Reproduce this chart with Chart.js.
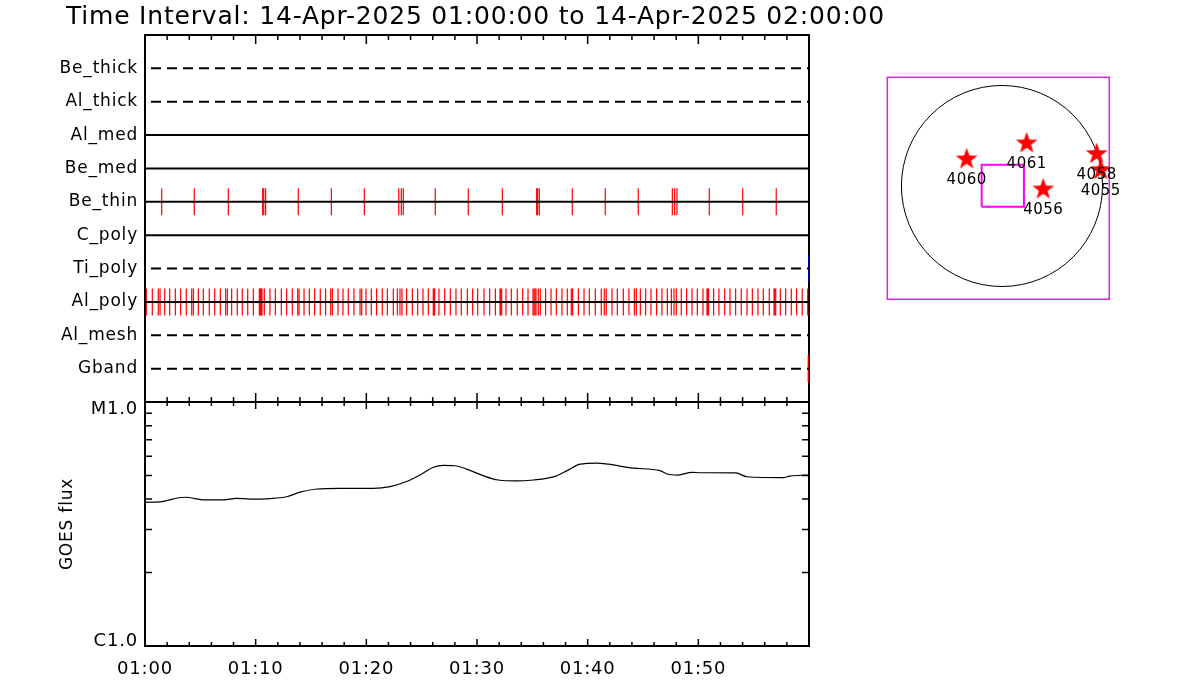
<!DOCTYPE html>
<html><head><meta charset="utf-8">
<script src="https://cdn.jsdelivr.net/npm/chart.js@4.4.1/dist/chart.umd.min.js"></script>
<style>
html,body{margin:0;padding:0;background:#fff;width:1200px;height:700px;overflow:hidden;}
.c{position:absolute;}
#cA{left:0;top:0;width:951px;height:410px;}
#cB{left:0;top:390px;width:951px;height:310px;}
#cC{left:880px;top:70px;width:240px;height:240px;}
</style></head><body>
<div class="c" id="cA"><canvas id="a"></canvas></div>
<div class="c" id="cB"><canvas id="b"></canvas></div>
<div class="c" id="cC"><canvas id="m"></canvas></div>
<script>
// ---------------- data ----------------
const titleText = 'Time Interval: 14-Apr-2025 01:00:00 to 14-Apr-2025 02:00:00';
const rowNames  = ['Be_thick','Al_thick','Al_med','Be_med','Be_thin','C_poly','Ti_poly','Al_poly','Al_mesh','Gband'];
const rowDashed = [true,true,false,false,false,false,true,false,true,true];

const beThinEvents = [1.51,4.45,7.53,10.63,10.73,10.90,13.85,16.84,19.82,22.93,23.16,23.34,26.23,29.21,
  32.29,35.39,35.48,35.63,38.61,41.59,44.57,47.65,47.86,48.07,50.99,54.01,57.04];
const alPolyEvents = [0.12,0.66,1.20,1.36,1.78,2.23,2.74,3.22,3.73,4.22,4.37,4.82,5.27,5.81,6.30,6.81,7.29,7.44,
  7.83,8.34,8.79,9.28,9.79,10.33,10.39,10.45,10.51,10.57,10.78,11.29,11.78,12.32,12.80,13.31,13.80,13.92,14.37,
  14.85,15.33,15.84,16.32,16.78,16.93,17.44,17.89,18.37,18.88,19.43,19.58,19.97,20.45,20.93,21.44,21.90,22.44,
  22.80,23.04,23.22,23.64,24.16,24.64,25.12,25.60,26.05,26.11,26.17,26.56,27.08,27.59,28.10,28.58,29.13,29.61,
  30.06,30.63,31.14,31.66,32.08,32.14,32.23,32.62,33.10,33.64,34.13,34.61,35.06,35.15,35.24,35.33,35.54,35.72,
  36.20,36.69,37.17,37.68,38.16,38.52,38.64,39.16,39.67,40.15,40.69,41.23,41.50,41.68,42.20,42.68,43.22,43.73,
  44.22,44.40,44.76,45.24,45.72,46.23,46.71,47.20,47.56,47.80,48.01,48.46,48.94,49.43,49.91,50.42,50.78,50.84,
  50.93,51.38,51.86,52.38,52.86,53.37,53.88,54.40,54.88,55.39,55.87,56.41,56.84,56.90,56.99,57.41,57.89,58.40,
  58.88,59.39,59.88];
const tiPolyEvents = [60.0];
const gbandEvents  = [59.93];

const timeTickMinutes = [0,10,20,30,40,50];
const timeTickLabels  = ['01:00','01:10','01:20','01:30','01:40','01:50'];

const goesMinutes = [0.0,1.36,3.61,5.42,7.08,8.28,9.49,11.29,12.80,14.01,15.51,17.62,19.43,20.63,22.14,23.64,
  24.85,26.05,26.96,28.00,29.06,30.56,31.92,33.57,35.09,36.89,38.10,39.31,40.81,41.86,44.09,46.53,47.16,48.16,
  49.43,50.15,53.40,54.39,57.73,58.28,59.92];
const goesFlux = [3.88e-6,3.90e-6,4.07e-6,3.97e-6,3.97e-6,4.03e-6,4.00e-6,4.02e-6,4.09e-6,4.27e-6,4.40e-6,4.43e-6,
  4.43e-6,4.43e-6,4.50e-6,4.72e-6,5.02e-6,5.40e-6,5.50e-6,5.48e-6,5.31e-6,4.99e-6,4.79e-6,4.75e-6,4.79e-6,4.93e-6,
  5.22e-6,5.56e-6,5.62e-6,5.56e-6,5.36e-6,5.23e-6,5.07e-6,5.02e-6,5.15e-6,5.13e-6,5.12e-6,4.94e-6,4.90e-6,4.97e-6,5.02e-6];
const goesMin = 1e-6, goesMax = 1e-5;
const goesTickLabels = ['C1.0', 'M1.0'];

const arNames = ['4060','4061','4056','4058','4055'];
const arX = [-337, 236, 394, 904, 943];
const arY = [255, 408, -32, 306, 153];
const fovX = [-194, 210];
const fovY = [-198, 203];
const limbRadius = 960;
const mapXRange = [-1095, 1025];
const mapYRange = [-1082, 1038];

// ---------------- helpers ----------------
const FONT = 'DejaVu Sans';
Chart.defaults.font.family = FONT;
Chart.defaults.color = '#000';

const spacing = { id:'spacing', beforeDraw(chart, args, opts){ chart.ctx.letterSpacing = opts.value || '0px'; } };
const noPad = s => { s.paddingTop = 0; s.paddingBottom = 0; s.paddingLeft = 0; s.paddingRight = 0; };

const frame = {
  id:'frame',
  beforeDatasetsDraw(chart, args, opts){
    const {ctx, chartArea:a, scales} = chart;
    ctx.save();
    ctx.strokeStyle = '#000';
    ctx.lineWidth = 2;
    ctx.strokeRect(a.left, a.top, a.right - a.left, a.bottom - a.top);
    ctx.lineWidth = 1.5;
    const xs = scales.x;
    ctx.beginPath();
    for (let m = xs.min; m <= xs.max; m += opts.minorStep) {
      const px = xs.getPixelForValue(m);
      const len = (Math.round(m) % opts.majorStep === 0) ? opts.major : opts.minor;
      ctx.moveTo(px, a.top); ctx.lineTo(px, a.top + len);
      ctx.moveTo(px, a.bottom); ctx.lineTo(px, a.bottom - len);
    }
    if (opts.logMinor) {
      const ys = scales.y;
      for (let k = 2; k <= 9; k++) {
        const py = ys.getPixelForValue(k * ys.min);
        ctx.moveTo(a.left, py); ctx.lineTo(a.left + opts.yLen, py);
        ctx.moveTo(a.right, py); ctx.lineTo(a.right - opts.yLen, py);
      }
    }
    ctx.stroke();
    ctx.restore();
  }
};

// ---------------- chart A: event rows ----------------
const nRows = rowNames.length;
const rowY = i => nRows - i;
const dsA = [];
rowNames.forEach((n, i) => {
  dsA.push({
    label: n, data: [{x:0, y:rowY(i)}, {x:60, y:rowY(i)}], showLine: true,
    borderColor: '#000', borderWidth: 2, pointRadius: 0,
    borderDash: rowDashed[i] ? [10, 6] : [], borderDashOffset: -6, order: 0, clip: false
  });
});
function eventSet(times, row, color) {
  const i = rowNames.indexOf(row);
  return { label: row + ' events', data: times.map(t => ({x:t, y:rowY(i)})), showLine: false,
    pointStyle: 'line', rotation: 90, pointRadius: 13.5, pointBorderWidth: 1.2,
    pointBorderColor: color, borderColor: color, backgroundColor: color, order: 1, clip: false };
}
dsA.push(eventSet(beThinEvents, 'Be_thin', '#ff0000'));
dsA.push(eventSet(alPolyEvents, 'Al_poly', '#ff0000'));
dsA.push(eventSet(tiPolyEvents, 'Ti_poly', '#0000ff'));
dsA.push(eventSet(gbandEvents, 'Gband', '#ff0000'));

new Chart(document.getElementById('a'), {
  type: 'scatter',
  data: { datasets: dsA },
  plugins: [spacing, frame],
  options: {
    responsive: true, maintainAspectRatio: false, animation: false, events: [],
    layout: { autoPadding: false, padding: {left:0, right:0, top:0, bottom:8} },
    plugins: {
      legend: {display:false}, tooltip: {enabled:false},
      spacing: { value: '0.8px' },
      frame: { minorStep: 2, majorStep: 10, minor: 5, major: 9 },
      title: { display: true, text: titleText, color: '#000', align: 'center',
        font: {family: FONT, size: 25, weight: 'normal', lineHeight: 1.2}, padding: {top: 2, bottom: 3} }
    },
    scales: {
      x: { type: 'linear', min: 0, max: 60, display: false },
      y: { type: 'linear', min: 0, max: nRows + 1, position: 'left',
        grid: {display:false, drawTicks:false}, border: {display:false},
        afterBuildTicks: s => { s.ticks = rowNames.map((n, i) => ({value: rowY(i)})); },
        ticks: { padding: 7, color: '#000', font: {family: FONT, size: 17},
          callback: v => rowNames[nRows - v] },
        afterFit: s => { s.width = 145; noPad(s); } },
      yR: { type: 'linear', min: 0, max: nRows + 1, position: 'right', display: true,
        grid: {display:false, drawTicks:false}, border: {display:false}, ticks: {display:false},
        afterFit: s => { s.width = 142; noPad(s); } }
    }
  }
});

// ---------------- chart B: GOES flux ----------------
new Chart(document.getElementById('b'), {
  type: 'line',
  data: { datasets: [{ label: 'GOES flux', data: goesMinutes.map((t, i) => ({x:t, y:goesFlux[i]})),
    borderColor: '#000', borderWidth: 1.2, pointRadius: 0, cubicInterpolationMode: 'monotone', fill: false }] },
  plugins: [spacing, frame],
  options: {
    responsive: true, maintainAspectRatio: false, animation: false, events: [],
    layout: { autoPadding: false, padding: {left:0, right:142, top:12, bottom:0} },
    plugins: {
      legend: {display:false}, tooltip: {enabled:false},
      spacing: { value: '0.8px' },
      frame: { minorStep: 2, majorStep: 10, minor: 4, major: 7, logMinor: true, yLen: 7 }
    },
    scales: {
      x: { type: 'linear', min: 0, max: 60, position: 'bottom',
        grid: {display:false, drawTicks:false}, border: {display:false},
        afterBuildTicks: s => { s.ticks = timeTickMinutes.map(v => ({value: v})); },
        ticks: { padding: 13, color: '#000', maxRotation: 0, autoSkip: false, font: {family: FONT, size: 18},
          callback: (v) => timeTickLabels[timeTickMinutes.indexOf(v)] },
        afterFit: s => { s.height = 54; noPad(s); } },
      y: { type: 'logarithmic', min: goesMin, max: goesMax, position: 'left',
        grid: {display:false, drawTicks:false}, border: {display:false},
        // labels sit just inside the panel, as in the original plot
        afterBuildTicks: s => { s.ticks = [{value: goesMin * 1.041}, {value: goesMax / 1.068}]; },
        ticks: { padding: 7, color: '#000', autoSkip: false, font: {family: FONT, size: 18},
          callback: (v, i) => goesTickLabels[i] },
        title: { display: true, text: 'GOES flux', color: '#000', font: {family: FONT, size: 17}, padding: {top: 57, bottom: 0} },
        afterFit: s => { s.width = 145; noPad(s); } }
    }
  }
});

// ---------------- chart C: solar map ----------------
function makeStar() {
  const c = document.createElement('canvas'); c.width = 24; c.height = 24;
  const g = c.getContext('2d'); g.fillStyle = '#ff0000'; g.beginPath();
  for (let i = 0; i < 10; i++) {
    const r = i % 2 ? 4.6 : 11.5; const a = -Math.PI / 2 + i * Math.PI / 5;
    g.lineTo(12 + r * Math.cos(a), 12 + r * Math.sin(a));
  }
  g.closePath(); g.fill(); return c;
}
const mapDecor = {
  id: 'mapDecor',
  beforeDatasetsDraw(chart, args, opts) {
    const {ctx, chartArea: a, scales: {x, y}} = chart;
    ctx.save();
    ctx.strokeStyle = opts.boxColor; ctx.lineWidth = 1.5;
    ctx.strokeRect(a.left, a.top, a.right - a.left, a.bottom - a.top);
    const cx = x.getPixelForValue(0), cy = y.getPixelForValue(0);
    const r = x.getPixelForValue(limbRadius) - cx;
    ctx.strokeStyle = '#000'; ctx.lineWidth = 1;
    ctx.beginPath(); ctx.arc(cx, cy, r, 0, Math.PI * 2); ctx.stroke();
    ctx.restore();
  },
  afterDatasetsDraw(chart, args, opts) {
    const {ctx, scales: {x, y}} = chart;
    ctx.save();
    ctx.letterSpacing = '0.5px';
    ctx.font = '15px ' + FONT; ctx.fillStyle = '#000'; ctx.textAlign = 'center'; ctx.textBaseline = 'middle';
    arNames.forEach((n, i) => {
      ctx.fillText(n, x.getPixelForValue(arX[i]), y.getPixelForValue(arY[i]) + opts.labelGap);
    });
    ctx.restore();
  }
};
new Chart(document.getElementById('m'), {
  type: 'scatter',
  data: { datasets: [
    { label: 'ARs', data: arX.map((v, i) => ({x: v, y: arY[i]})), pointStyle: makeStar(), pointRadius: 5, order: 0 },
    { label: 'FOV', data: [{x:fovX[0], y:fovY[0]}, {x:fovX[1], y:fovY[0]}, {x:fovX[1], y:fovY[1]}, {x:fovX[0], y:fovY[1]}, {x:fovX[0], y:fovY[0]}],
      showLine: true, borderColor: '#ff00ff', borderWidth: 2, pointRadius: 0, order: 1 }
  ] },
  plugins: [mapDecor],
  options: {
    responsive: true, maintainAspectRatio: false, animation: false, events: [],
    layout: { autoPadding: false, padding: {left: 7.3, top: 7.3, right: 10.7, bottom: 10.7} },
    plugins: { legend: {display:false}, tooltip: {enabled:false}, mapDecor: { boxColor: '#e020e0', labelGap: 21 } },
    scales: {
      x: { type: 'linear', min: mapXRange[0], max: mapXRange[1], display: false },
      y: { type: 'linear', min: mapYRange[0], max: mapYRange[1], display: false }
    }
  }
});
</script>
</body></html>
